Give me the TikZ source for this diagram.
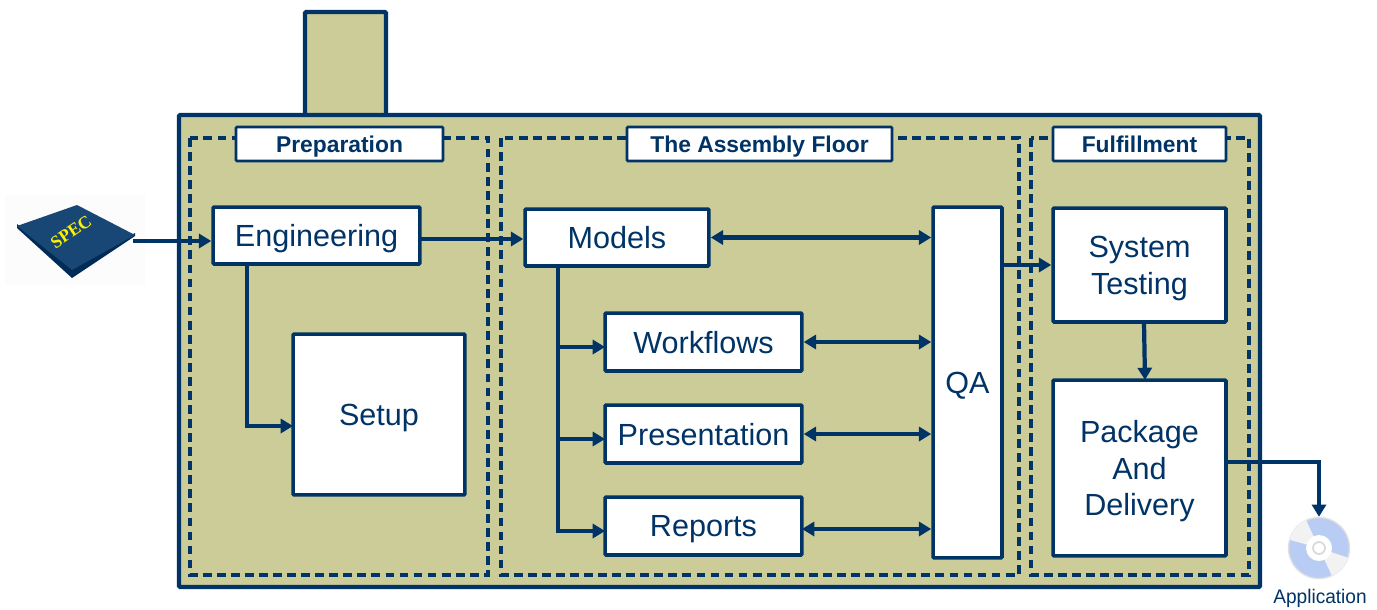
\documentclass[tikz,border=0pt]{standalone}
\usepackage{fontspec}
\setmainfont{Liberation Sans}
\newfontfamily\specfont{Liberation Serif}
\usetikzlibrary{arrows.meta}
\definecolor{navy}{HTML}{003366}
\definecolor{olive}{HTML}{CCCC99}
\definecolor{discblue}{HTML}{B9CCF3}
\tikzset{
	box/.style={draw=navy,fill=white,line width=2pt,rounded corners=0.6pt,inner sep=0pt,align=center,text=navy,text depth=-1.1pt,font=\fontsize{17.4}{21}\selectfont},
	title/.style={draw=navy,fill=white,line width=1.5pt,rounded corners=0.6pt,inner sep=0pt,text=navy,text depth=0pt,minimum height=0.68cm,font=\fontsize{13}{15}\selectfont\bfseries},
	panel/.style={draw=navy,line width=1.8pt,dash pattern=on 5pt off 3pt},
	conn/.style={draw=navy,line width=2.4pt,-{Triangle[length=7pt,width=8pt]}},
	both/.style={draw=navy,line width=2.4pt,{Triangle[length=7pt,width=8pt]}-{Triangle[length=7pt,width=8pt]}}
}
\begin{document}
\begin{tikzpicture}[x=0.02cm,y=-0.02cm]
	\useasboundingbox (0,0) rectangle (1377,609);

	% factory
	\draw[draw=navy,fill=olive,line width=2.4pt,rounded corners=0.6pt] (305,115) -- (305,12) -- (386,12) -- (386,115);
	\draw[draw=navy,fill=olive,line width=2.4pt,rounded corners=0.6pt] (179,115) rectangle (1260,587);

	\draw[panel] (190,138) rectangle (488,575);
	\draw[panel] (501,138) rectangle (1019,575);
	\draw[panel] (1031,138) rectangle (1249,575);

	\node[title,minimum width=4.14cm] (preparation) at (339.5,144) {Preparation};
	\node[title,minimum width=5.3cm] (floor) at (759.5,144) {The Assembly Floor};
	\node[title,minimum width=3.46cm] (fulfillment) at (1139.5,144) {Fulfillment};

	% spec book
	\fill[black!1] (5,195) rectangle (145,285);
	\fill[navy!85!black] (17,228) -- (72,278) -- (135,236) -- (135,233) -- (72,268) -- (17,224) -- cycle;
	\fill[navy!90!white] (17,226) -- (77,205) -- (135,235) -- (72,270) -- cycle;
	\node[rotate=34,text=yellow,inner sep=0pt,font=\fontsize{10}{12}\selectfont\specfont\bfseries] (spec) at (71,232) {SPEC};
	\coordinate (specout) at (133,241);

	% boxes
	\node[box,minimum width=4.14cm,minimum height=1.14cm] (engineering) at (316.5,235.5) {Engineering};
	\node[box,minimum width=3.44cm,minimum height=3.22cm] (setup) at (379,414.5) {Setup};
	\node[box,minimum width=3.68cm,minimum height=1.14cm] (models) at (617,237.5) {Models};
	\node[box,minimum width=3.94cm,minimum height=1.16cm] (workflows) at (703.5,342) {Workflows};
	\node[box,minimum width=3.94cm,minimum height=1.16cm] (presentation) at (703.5,434) {Presentation};
	\node[box,minimum width=3.94cm,minimum height=1.16cm] (reports) at (703.5,526) {Reports};
	\node[box,minimum width=1.38cm,minimum height=7.02cm] (qa) at (967.5,382.5) {QA};
	\node[box,minimum width=3.46cm,minimum height=2.28cm] (testing) at (1139.5,265) {System\\Testing};
	\node[box,minimum width=3.46cm,minimum height=3.52cm] (delivery) at (1139.5,468) {Package\\And\\Delivery};

	% disc
	\node[circle,draw=black!12,fill=discblue,line width=0.8pt,minimum size=1.22cm,inner sep=0pt] (disc) at (1319,548) {};
	\fill[black!5] (disc.center) -- (1306,520) arc (-115:-165:30.5) -- cycle;
	\fill[black!5] (disc.center) -- (1332,576) arc (65:18:30.5) -- cycle;
	\fill[white] (disc.center) circle (13);
	\draw[black!15,line width=1pt] (disc.center) circle (6);
	\node[text=navy,inner sep=0pt,font=\fontsize{11.2}{13}\selectfont,xscale=0.97] (application) at (1320,598) {Application};

	% connectors
	\draw[conn] (specout) -- (engineering.west |- specout);
	\coordinate (engout) at (420,239);
	\draw[conn] (engout) -- (models.west |- engout);

	\coordinate (setupdrop) at (247,264);
	\coordinate (setupin) at (293,426);
	\draw[conn] (setupdrop) |- (setupin);

	\coordinate (modelsdrop) at (558,266);
	\coordinate (workflowsin) at (605,347);
	\coordinate (presentationin) at (605,439);
	\coordinate (reportsin) at (605,531);
	\draw[conn] (modelsdrop) |- (workflowsin);
	\draw[conn] (modelsdrop) |- (presentationin);
	\draw[conn] (modelsdrop) |- (reportsin);

	\draw[both] (models.east) -- (qa.west |- models.east);
	\draw[both] (workflows.east) -- (qa.west |- workflows.east);
	\draw[both] (presentation.east) -- (qa.west |- presentation.east);
	\coordinate (reportsout) at (802,529);
	\draw[both] (reportsout) -- (qa.west |- reportsout);

	\coordinate (qaout) at (1002,265);
	\draw[conn] (qaout) -- (testing.west |- qaout);
	\coordinate (testingout) at (1144,322);
	\coordinate (deliveryin) at (1145,380);
	\draw[conn] (testingout) -- (deliveryin);

	\coordinate (deliveryout) at (1226,462);
	\draw[conn] (deliveryout) -| (disc.north);
\end{tikzpicture}
\end{document}
